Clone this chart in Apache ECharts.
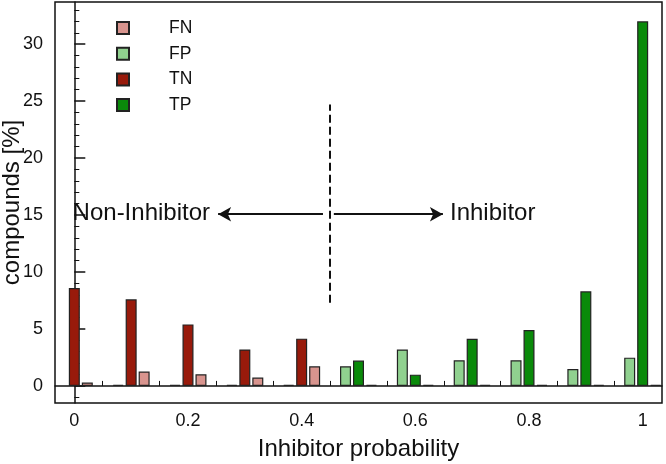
<!DOCTYPE html>
<html>
<head>
<meta charset="utf-8">
<script src="https://cdn.jsdelivr.net/npm/echarts@6/dist/echarts.min.js"></script>
<style>html,body{margin:0;padding:0;background:#fff}#c{width:666px;height:464px}</style>
</head>
<body>
<div id="c"></div>
<script>
// Data
const xValues = [0, 0.1, 0.2, 0.3, 0.4, 0.5, 0.6, 0.7, 0.8, 0.9, 1];
const fnValues = [0.3, 1.26, 1.02, 0.73, 1.72, 0, 0, 0, 0, 0, 0];
const fpValues = [null, 0, 0, 0, 0, 1.72, 3.2, 2.25, 2.25, 1.49, 2.48];
const tnValues = [8.6, 7.6, 5.4, 3.2, 4.15, null, null, null, null, null, null];
const tpValues = [null, null, null, null, null, 2.22, 0.99, 4.14, 4.9, 8.3, 32.0];
const xTickLabels = [0, 0.2, 0.4, 0.6, 0.8, 1];
const xMinorTicks = [0.05, 0.1, 0.15, 0.25, 0.3, 0.35, 0.45, 0.5, 0.55, 0.65, 0.7, 0.75, 0.85, 0.9, 0.95];
const yTickLabels = [0, 5, 10, 15, 20, 25, 30];
const yMinorTicks = [-1, 1, 2, 3, 4, 6, 7, 8, 9, 11, 12, 13, 14, 16, 17, 18, 19, 21, 22, 23, 24, 26, 27, 28, 29, 31, 32, 33];
const threshold = 0.45;

const FONT = '"Liberation Sans", Arial, sans-serif';
const pair = (vals) => xValues.map((x, i) => [x, vals[i]]);
const border = { borderColor: '#222', borderWidth: 1.2 };

const chart = echarts.init(document.getElementById('c'), null, { renderer: 'canvas' });
const baseX = { type: 'value', min: -0.034, max: 1.034, gridIndex: 0 };
const baseY = { type: 'value', min: -1.5, max: 33.7, gridIndex: 0 };

chart.setOption({
  animation: false,
  textStyle: { fontFamily: FONT },
  grid: { left: 55, right: 4, top: 2, bottom: 61, containLabel: false, outerBoundsMode: 'none', show: true, borderColor: '#111', borderWidth: 1.5, backgroundColor: 'transparent' },
  legend: {
    orient: 'vertical', left: 111, top: 14, itemWidth: 12, itemHeight: 12, itemGap: 7.7,
    icon: 'rect',
    data: ['FN', 'FP', 'TN', 'TP'],
    textStyle: { fontSize: 17.5, fontFamily: FONT, color: '#111', lineHeight: 17, padding: [0, 0, 0, 35] }
  },
  xAxis: [
    Object.assign({}, baseX, {
      name: 'Inhibitor probability', nameLocation: 'middle', nameGap: 34,
      nameTextStyle: { fontSize: 24, color: '#111', fontFamily: FONT },
      axisLine: { show: true, lineStyle: { color: '#111', width: 1.5 } },
      axisTick: { show: true, inside: true, length: 10, lineStyle: { color: '#111', width: 1.5 }, customValues: xTickLabels },
      axisLabel: { show: true, fontSize: 18, color: '#111', margin: 9, customValues: xTickLabels, formatter: v => String(+v.toFixed(2)) },
      splitLine: { show: false }
    }),
    Object.assign({}, baseX, {
      position: 'bottom',
      axisLine: { show: false },
      axisTick: { show: true, inside: true, length: 5, lineStyle: { color: '#111', width: 1 }, customValues: xMinorTicks },
      axisLabel: { show: false },
      splitLine: { show: false }
    })
  ],
  yAxis: [
    Object.assign({}, baseY, {
      name: 'compounds [%]', nameLocation: 'middle', nameGap: 31, nameMoveOverlap: false,
      nameTextStyle: { fontSize: 24, color: '#111', fontFamily: FONT },
      axisLine: { show: true, lineStyle: { color: '#111', width: 1.5 } },
      axisTick: { show: true, inside: true, length: 11, lineStyle: { color: '#111', width: 1.5 }, customValues: yTickLabels },
      axisLabel: { show: true, fontSize: 18, fontFamily: FONT, color: '#111', margin: 12, customValues: yTickLabels, formatter: v => String(v) },
      splitLine: { show: false }
    }),
    Object.assign({}, baseY, {
      position: 'left',
      axisLine: { show: false },
      axisTick: { show: true, inside: true, length: 5, lineStyle: { color: '#111', width: 1 }, customValues: yMinorTicks },
      axisLabel: { show: false },
      splitLine: { show: false }
    })
  ],
  series: [
    {
      name: 'FP', type: 'bar', xAxisIndex: 0, yAxisIndex: 0, data: pair(fpValues),
      barWidth: 11, barGap: '18%', barMinHeight: 1,
      itemStyle: Object.assign({ color: '#90d18f' }, border)
    },
    {
      name: 'TN', type: 'bar', stack: 'center', xAxisIndex: 0, yAxisIndex: 0, data: pair(tnValues),
      barWidth: 11, barGap: '18%', barMinHeight: 1,
      itemStyle: Object.assign({ color: '#981a0b' }, border)
    },
    {
      name: 'TP', type: 'bar', stack: 'center', xAxisIndex: 0, yAxisIndex: 0, data: pair(tpValues),
      barWidth: 11, barGap: '18%', barMinHeight: 1,
      itemStyle: Object.assign({ color: '#0a8a0a' }, border)
    },
    {
      name: 'FN', type: 'bar', xAxisIndex: 0, yAxisIndex: 0, data: pair(fnValues),
      barWidth: 11, barGap: '18%', barMinHeight: 1,
      itemStyle: Object.assign({ color: '#d8948e' }, border)
    },
    {
      name: 'annotations', type: 'line', xAxisIndex: 0, yAxisIndex: 0, data: [],
      markLine: {
        silent: true, symbol: 'none', animation: false,
        label: { show: false },
        lineStyle: { color: '#111', width: 2, type: [8, 4] },
        data: [
          [{ coord: [threshold, 7.3] }, { coord: [threshold, 24.7] }],
          [{ coord: [0.4375, 15.07], lineStyle: { type: 'solid', width: 2 }, symbol: 'none' },
           { coord: [0.253, 15.07], symbol: 'arrow', symbolSize: [11, 13] }],
          [{ coord: [0.4566, 15.07], lineStyle: { type: 'solid', width: 2 }, symbol: 'none' },
           { coord: [0.6485, 15.07], symbol: 'arrow', symbolSize: [11, 13] }]
        ]
      }
    }
  ],
  graphic: [
    { type: 'text', right: 666 - 210, top: 201, style: { text: 'Non-Inhibitor', font: '24px ' + FONT, fill: '#111' } },
    { type: 'text', left: 450, top: 201, style: { text: 'Inhibitor', font: '24px ' + FONT, fill: '#111' } }
  ]
});
</script>
</body>
</html>
